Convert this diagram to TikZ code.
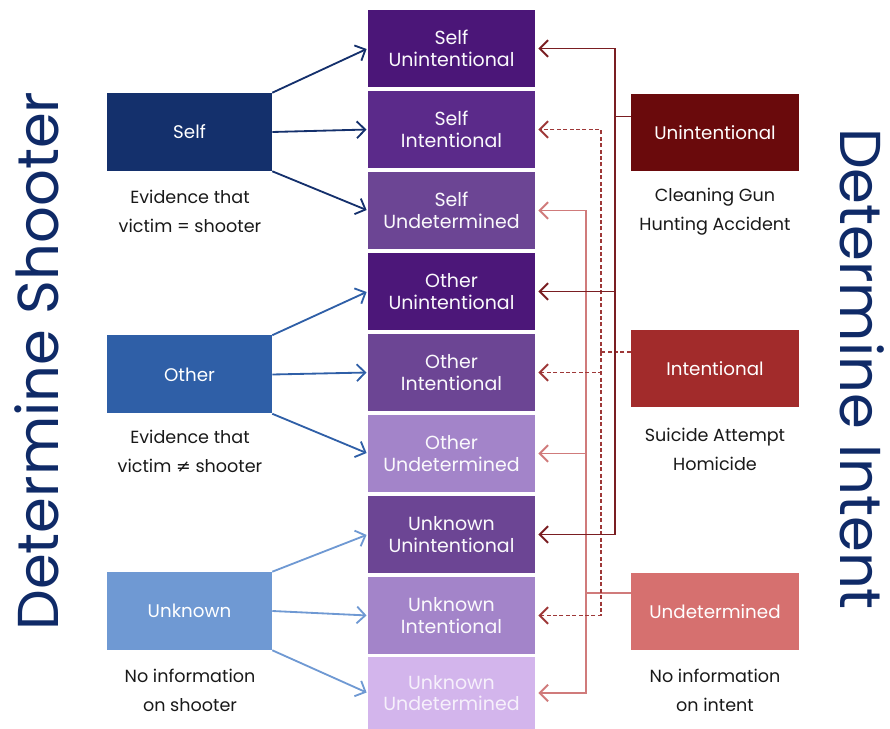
\documentclass[tikz,border=0pt]{standalone}
\usepackage{fontspec}
\setmainfont{Poppins}
\newfontfamily\symbfont{DejaVu Sans}
\usetikzlibrary{arrows.meta}
\definecolor{TitleNavy}{HTML}{0F2A67}
\definecolor{SelfBlue}{HTML}{14306C}
\definecolor{OtherBlue}{HTML}{2F5FA7}
\definecolor{UnknownBlue}{HTML}{6F99D3}
\definecolor{CellA}{HTML}{4B1678}
\definecolor{CellB}{HTML}{5B2A8A}
\definecolor{CellC}{HTML}{6C4594}
\definecolor{CellD}{HTML}{A384C9}
\definecolor{CellE}{HTML}{D3B5EC}
\definecolor{UnintRed}{HTML}{6A0A0C}
\definecolor{IntentRed}{HTML}{A22B2B}
\definecolor{UndetRed}{HTML}{D6706F}
\definecolor{UnintLine}{HTML}{7A1E22}
\definecolor{IntentLine}{HTML}{9E3838}
\definecolor{UndetLine}{HTML}{D07B7B}

\begin{document}
\begin{tikzpicture}[x=0.25mm, y=-0.25mm,
  cell/.style={minimum width=41.75mm, minimum height=19.25mm, inner sep=0pt, align=center, text=white!95!CellD, font=\fontsize{13.5}{15.5}\selectfont},
  shooter/.style={minimum width=41.25mm, minimum height=19.5mm, inner sep=0pt, text=white, font=\fontsize{13}{15}\selectfont},
  intent/.style={minimum width=42mm, minimum height=19.25mm, inner sep=0pt, text=white, font=\fontsize{13}{15}\selectfont},
  note/.style={align=center, text=black!90, font=\fontsize{12.5}{20.5}\selectfont},
  title/.style={text=TitleNavy, font=\fontsize{41}{41}\selectfont},
  sarr/.style={-{Straight Barb[length=2.1mm,width=4.2mm]}, line width=1.3pt, shorten >=0.3mm},
  iarr/.style={-{Straight Barb[length=2.1mm,width=4.2mm]}, line width=1.4pt, shorten >=0.75mm},
  bus/.style={line width=1.4pt}
]
\useasboundingbox (0,0) rectangle (890,729);

% side titles
\node[title, rotate=90] (tshoot) at (37,361) {Determine Shooter};
\node[title, rotate=-90] (tintent) at (862,369) {Determine Intent};

% centre column
\node[cell, fill=CellA] (su) at (451.5,48.5) {Self\\Unintentional};
\node[cell, fill=CellB] (si) at (451.5,129.5) {Self\\Intentional};
\node[cell, fill=CellC] (sd) at (451.5,210.5) {Self\\Undetermined};
\node[cell, fill=CellA!95!CellB] (ou) at (451.5,291.5) {Other\\Unintentional};
\node[cell, fill=CellC] (oi) at (451.5,372.5) {Other\\Intentional};
\node[cell, fill=CellD] (od) at (451.5,453.5) {Other\\Undetermined};
\node[cell, fill=CellC] (ku) at (451.5,534.5) {Unknown\\Unintentional};
\node[cell, fill=CellD] (ki) at (451.5,615.5) {Unknown\\Intentional};
\node[cell, fill=CellE, minimum height=18mm, text=white!80!CellE] (kd) at (451.5,693) {Unknown\\Undetermined};

% shooter
\node[shooter, fill=SelfBlue] (self) at (189.5,132) {Self};
\node[shooter, fill=OtherBlue] (other) at (189.5,374.5) {Other};
\node[shooter, fill=UnknownBlue] (unk) at (189.5,611) {Unknown};
\node[note] (selfnote) at (190,211.5) {Evidence that\\victim = shooter};
\node[note] (othernote) at (190,451.5) {Evidence that\\victim {\symbfont ≠} shooter};
\node[note] (unknote) at (190,690.5) {No information\\on shooter};

% intent
\node[intent, fill=UnintRed] (un) at (715,132.5) {Unintentional};
\node[intent, fill=IntentRed] (in) at (715,369) {Intentional};
\node[intent, fill=UndetRed] (de) at (715,611.5) {Undetermined};
\node[note] (unnote) at (715,211.5) {Cleaning Gun\\Hunting Accident};
\node[note] (innote) at (715,449) {Suicide Attempt\\Homicide};
\node[note] (denote) at (715,690.5) {No information\\on intent};

% shooter arrows
\draw[sarr, SelfBlue] (self.north east) -- (su.west);
\draw[sarr, SelfBlue] (self.east) -- (si.west);
\draw[sarr, SelfBlue] (self.south east) -- (sd.west);
\draw[sarr, OtherBlue] (other.north east) -- (ou.west);
\draw[sarr, OtherBlue] (other.east) -- (oi.west);
\draw[sarr, OtherBlue] (other.south east) -- (od.west);
\draw[sarr, UnknownBlue] (unk.north east) -- (ku.west);
\draw[sarr, UnknownBlue] (unk.east) -- (ki.west);
\draw[sarr, UnknownBlue] (unk.south east) -- (kd.west);

% intent links
\draw[bus, UndetLine] ([yshift=4.6mm]de.west) -- ++(-45,0) coordinate (dbus);
\draw[iarr, UndetLine] (dbus) |- (sd.east);
\draw[iarr, UndetLine] (dbus) |- (od.east);
\draw[iarr, UndetLine] (dbus) |- (kd.east);
\draw[bus, IntentLine, dash pattern=on 1mm off 0.6mm] ([yshift=4.25mm]in.west) -- ++(-30,0) coordinate (ibus);
\draw[iarr, IntentLine, dash pattern=on 1mm off 0.6mm] (ibus) |- (si.east);
\draw[iarr, IntentLine, dash pattern=on 1mm off 0.6mm] (ibus) |- (oi.east);
\draw[iarr, IntentLine, dash pattern=on 1mm off 0.6mm] (ibus) |- (ki.east);
\draw[bus, UnintLine] ([yshift=4mm]un.west) -- ++(-16,0) coordinate (ubus);
\draw[iarr, UnintLine] (ubus) |- (su.east);
\draw[iarr, UnintLine] (ubus) |- (ou.east);
\draw[iarr, UnintLine] (ubus) |- (ku.east);
\end{tikzpicture}
\end{document}
